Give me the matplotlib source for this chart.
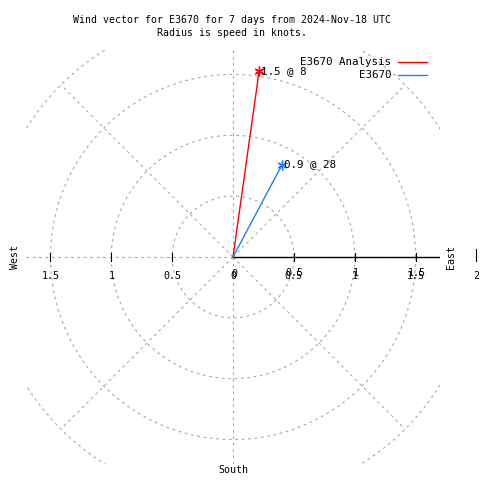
import numpy as np
import matplotlib
matplotlib.use("Agg")
import matplotlib.pyplot as plt
from matplotlib.lines import Line2D

plt.rcParams['font.family'] = ['DejaVu Sans Mono', 'DejaVu Sans']
plt.rcParams['lines.scale_dashes'] = False

# ---------- data ----------
station_names = ["E3670 Analysis", "E3670"]
wind_speed = [1.54, 0.86]      # knots
wind_dir = [8, 28]             # degrees, clockwise from north
ring_radii = [0.5, 1.0, 1.5, 2.0]
tick_values = [0.5, 1.0, 1.5]
spoke_angles = [0, 45, 90, 135, 180, 225, 270, 315]
title_lines = ["Wind vector for E3670 for 7 days from 2024-Nov-18 UTC",
               "Radius is speed in knots."]

colors = ["#ff0000", "#1a80ff"]
grid_col = "#a8a8a8"
fs = 7.2
W = H = 480

fig = plt.figure(figsize=(4.8, 4.8), dpi=100)
# centre at (233, 257) px, 1 knot = 121.7 px, box +-1.7
lim = 1.7
scale = 121.7
cx, cy = 233, 257
half = lim * scale
ax = fig.add_axes([(cx - half) / W, (H - cy - half) / H, 2 * half / W, 2 * half / H])
ax.set_xlim(-lim, lim)
ax.set_ylim(-lim, lim)
ax.set_aspect('equal')
ax.axis('off')

# grid circles
th = np.linspace(0, 2 * np.pi, 721)
for r in ring_radii:
    ax.plot(r * np.cos(th), r * np.sin(th), color=grid_col, lw=0.8,
            dashes=(2.0, 2.6))

# spokes
for a in spoke_angles:
    rad = np.deg2rad(a)
    ax.plot([0, 2 * np.cos(rad)], [0, 2 * np.sin(rad)], color=grid_col,
            lw=0.8, dashes=(2.0, 2.6))

# polar axis (east side solid)
ax.plot([0, lim], [0, 0], color='black', lw=1.0)
tl = 4 / scale
for t in tick_values:
    for sgn in (1, -1):
        ax.plot([sgn * t, sgn * t], [-tl, tl], color='black', lw=0.8)

# tick labels (gnuplot prints the east side twice, slightly offset)
ylab = -19 / scale
for t in tick_values:
    lab = f"{t:g}"
    ax.text(-t, ylab, lab, ha='center', va='center', fontsize=fs)
    ax.text(t, ylab, lab, ha='center', va='center', fontsize=fs)
    ax.text(t + 1 / scale, ylab + 3 / scale, lab, ha='center', va='center', fontsize=fs)
ax.text(0, ylab, "0", ha='center', va='center', fontsize=fs)
ax.text(1 / scale, ylab + 2 / scale, "0", ha='center', va='center', fontsize=fs)
ax.text(2.0, ylab, "2", ha='center', va='center', fontsize=fs, clip_on=False)
ax.plot([2.0, 2.0], [-tl, 2 * tl], color='black', lw=0.8, clip_on=False)

# compass labels
ax.text(-1.79, 0, "West", rotation=90, ha='center', va='center', fontsize=fs, clip_on=False)
ax.text(1.79, 0, "East", rotation=90, ha='center', va='center', fontsize=fs, clip_on=False)
ax.text(0, -1.75, "South", ha='center', va='center', fontsize=fs, clip_on=False)

# wind vectors
for name, s, d, c in zip(station_names, wind_speed, wind_dir, colors):
    rad = np.deg2rad(d)
    x, y = s * np.sin(rad), s * np.cos(rad)
    ax.plot([0, x], [0, y], color=c, lw=1.0)
    ax.plot([x], [y], marker=(6, 2, 0), color=c, markersize=7, mew=1.0)
    ax.text(x + 2 / scale, y, f"{s:.1f} @ {d}", ha='left', va='center', fontsize=fs + 0.6)

# legend (right-aligned text, sample line on the right)
for i, (name, c) in enumerate(zip(station_names, colors)):
    ypix = 62 + 13 * i
    fig.text(391 / W, 1 - ypix / H, name, ha='right', va='center', fontsize=fs + 0.6)
    fig.add_artist(Line2D([398 / W, 427 / W], [1 - ypix / H, 1 - ypix / H],
                          color=c, lw=1.0, transform=fig.transFigure))

# title
for i, line in enumerate(title_lines):
    fig.text(232 / W, 1 - (20 + 13 * i) / H, line, ha='center', va='center', fontsize=fs - 0.1)

fig.savefig("out.png", dpi=100)
